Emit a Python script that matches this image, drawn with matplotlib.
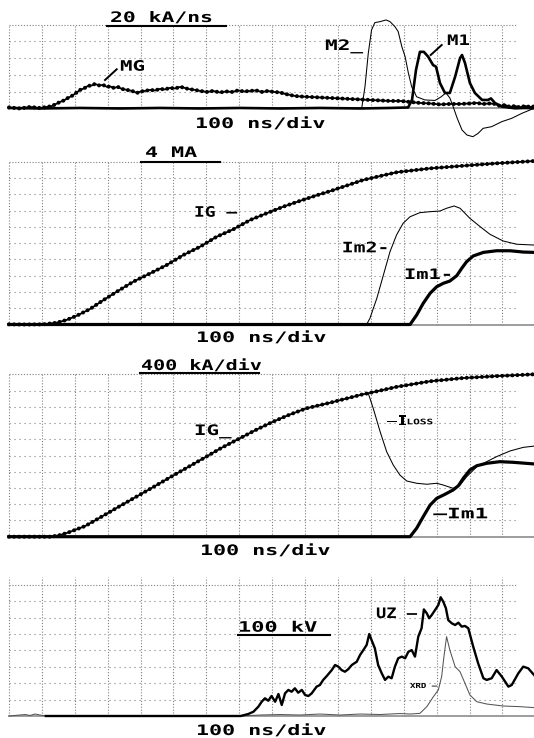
import matplotlib
matplotlib.use("Agg")
import matplotlib.pyplot as plt
from matplotlib.patheffects import AbstractPathEffect
from matplotlib.transforms import Affine2D
from matplotlib.lines import Line2D

W, H = 534, 738

# ---------------- DATA (time in ns, 100 ns per grid division; amplitude in grid divisions) -------------
# Panel 1 : dI/dt probes
t_mg = [0, 33, 64, 94, 116, 131, 143, 155, 167, 179, 191, 204, 216, 228, 240, 252, 261, 274, 286, 298,
        307, 319, 331, 343, 359, 374, 389, 401, 413, 429, 444, 459, 474, 489, 505, 520, 529, 544, 565, 581,
        602, 620, 641, 660, 678, 696, 714, 733, 751, 769, 787, 805, 824, 839, 854, 869, 884, 915, 945, 976,
        1006, 1036, 1067, 1097, 1128, 1158, 1188, 1219, 1249, 1280, 1310, 1340, 1371, 1401, 1422, 1441, 1462,
        1477, 1492, 1508, 1523, 1538, 1553, 1568, 1584, 1596]
mg = [0.05, -0.01, 0.08, 0.02, 0.08, 0.14, 0.26, 0.38, 0.47, 0.62, 0.74, 0.92, 1.10, 1.19, 1.34, 1.37, 1.46,
      1.37, 1.40, 1.28, 1.31, 1.22, 1.28, 1.16, 1.10, 1.04, 0.92, 1.01, 1.04, 1.10, 1.07, 1.16, 1.13, 1.22,
      1.19, 1.28, 1.25, 1.16, 1.10, 1.04, 0.98, 1.04, 0.95, 1.01, 0.98, 1.07, 1.01, 1.04, 1.07, 0.98, 1.04,
      0.98, 0.95, 0.86, 0.80, 0.74, 0.71, 0.68, 0.65, 0.62, 0.59, 0.56, 0.53, 0.50, 0.47, 0.44, 0.44, 0.38,
      0.32, 0.29, 0.23, 0.26, 0.26, 0.29, 0.32, 0.26, 0.29, 0.26, 0.14, 0.20, 0.08, 0.14, 0.05, 0.14, 0.08, 0.11]

t_m1 = [0, 94, 216, 338, 459, 581, 702, 824, 945, 1067, 1158, 1213, 1225, 1237, 1249, 1261, 1274, 1289,
        1298, 1310, 1325, 1340, 1356, 1371, 1377, 1386, 1401, 1416, 1438, 1456, 1465, 1477, 1498, 1538, 1568, 1596]
m1 = [0.02, -0.01, 0.02, -0.01, 0.02, -0.01, 0.02, -0.01, 0.02, -0.01, 0.02, 0.05, 0.50, 2.29, 3.38, 3.38,
      3.09, 2.59, 2.49, 1.51, 0.92, 0.92, 1.89, 3.01, 3.19, 2.71, 1.51, 0.92, 0.50, 0.50, 0.59, 0.32, 0.10,
      0.0, 0.02, 0.0]

t_m2 = [0, 1072, 1082, 1092, 1102, 1112, 1128, 1146, 1158, 1173, 1183, 1194, 1204, 1214, 1224, 1239, 1264,
        1295, 1313, 1328, 1340, 1350, 1362, 1377, 1392, 1410, 1426, 1441, 1467, 1498, 1528, 1559, 1596]
m2 = [0, 0, 1.29, 3.29, 4.69, 5.13, 5.19, 5.29, 5.19, 4.89, 4.59, 3.69, 3.09, 2.10, 1.29, 0.69, 0.50, 0.47,
      0.68, 0.92, 0.62, 0.10, -0.58, -1.30, -1.60, -1.70, -1.50, -1.20, -1.10, -0.80, -0.60, -0.30, 0]

# Panel 2 : currents
t_ig2 = [0, 49, 104, 125, 145, 175, 206, 246, 287, 327, 378, 429, 479, 530, 581, 631, 682, 733, 783, 834,
         884, 945, 976, 1077, 1178, 1280, 1381, 1482, 1596]
ig2 = [0.01, 0, 0.01, 0.06, 0.11, 0.28, 0.54, 0.95, 1.50, 2.01, 2.63, 3.14, 3.65, 4.27, 4.78, 5.39, 5.85,
       6.42, 6.83, 7.24, 7.59, 8.00, 8.19, 8.88, 9.35, 9.59, 9.75, 9.90, 10.04]

t_im2 = [0, 1087, 1097, 1118, 1138, 1158, 1178, 1198, 1219, 1249, 1280, 1310, 1330, 1353, 1371, 1401, 1432,
         1462, 1502, 1543, 1596]
im2 = [0, 0, 0.38, 1.61, 3.04, 4.47, 5.50, 6.22, 6.62, 6.87, 6.93, 6.97, 7.14, 7.28, 7.14, 6.52, 6.01, 5.54,
       5.13, 4.93, 4.88]

t_im1 = [0, 1219, 1239, 1259, 1280, 1300, 1320, 1340, 1361, 1376, 1391, 1411, 1442, 1482, 1523, 1563, 1596]
im1 = [0, 0, 0.58, 1.30, 1.92, 2.32, 2.53, 2.67, 3.00, 3.45, 3.86, 4.21, 4.43, 4.53, 4.53, 4.45, 4.43]

# Panel 3 : currents and loss current
t_ig3 = [0, 128, 155, 179, 231, 283, 334, 386, 438, 489, 541, 593, 644, 696, 748, 799, 851, 903, 976,
         1076, 1091, 1179, 1280, 1380, 1483, 1596]
ig3 = [0, 0, 0.10, 0.25, 0.65, 1.25, 1.85, 2.45, 3.05, 3.65, 4.25, 4.85, 5.45, 6.00, 6.55, 7.05, 7.50, 7.90,
       8.25, 8.77, 8.83, 9.23, 9.57, 9.77, 9.89, 10.00]

t_loss = [1092, 1107, 1128, 1148, 1168, 1188, 1209, 1239, 1270, 1300, 1320, 1350, 1371, 1391, 1422, 1452,
          1482, 1523, 1563, 1596]
iloss = [8.83, 7.91, 6.47, 5.23, 4.41, 3.80, 3.43, 3.29, 3.23, 3.29, 3.18, 2.98, 3.18, 3.69, 4.31, 4.62,
         4.93, 5.28, 5.50, 5.58]

t_im1b = [0, 1219, 1239, 1259, 1280, 1300, 1325, 1350, 1366, 1381, 1401, 1422, 1452, 1492, 1533, 1596]
im1b = [0, 0, 0.52, 1.23, 1.95, 2.36, 2.61, 2.88, 3.14, 3.60, 4.11, 4.37, 4.52, 4.62, 4.58, 4.48]

# Panel 4 : voltage UZ and XRD signal
t_uz = [112, 429, 704, 727, 743, 758, 768, 778, 788, 798, 809, 819, 829, 839, 849, 859, 869, 879, 890, 900,
        910, 920, 935, 945, 955, 966, 981, 991, 1001, 1011, 1021, 1031, 1042, 1057, 1067, 1077, 1087, 1095,
        1102, 1112, 1122, 1133, 1143, 1153, 1163, 1173, 1183, 1194, 1204, 1214, 1224, 1234, 1244, 1254, 1261,
        1270, 1277, 1285, 1295, 1305, 1312, 1320, 1328, 1335, 1346, 1356, 1366, 1376, 1386, 1396, 1411, 1426,
        1442, 1452, 1467, 1482, 1498, 1518, 1528, 1548, 1563, 1578, 1596]
uz = [0, 0, 0, 0.12, 0.26, 0.57, 0.87, 1.08, 0.93, 1.22, 0.87, 1.34, 0.67, 1.38, 1.59, 1.48, 1.69, 1.42,
      1.59, 1.28, 1.22, 1.38, 1.79, 1.89, 2.20, 2.44, 2.80, 3.11, 3.01, 2.80, 2.70, 2.85, 3.11, 3.31, 3.72,
      4.02, 4.33, 5.00, 4.63, 4.13, 3.11, 2.60, 2.20, 2.40, 2.30, 3.01, 3.52, 3.62, 3.52, 3.92, 4.02, 3.62,
      4.84, 5.35, 6.50, 6.26, 5.96, 6.16, 6.46, 6.77, 7.24, 6.97, 6.57, 5.85, 5.65, 5.55, 5.69, 5.45, 5.49,
      5.35, 4.23, 3.21, 2.30, 2.20, 2.30, 2.80, 2.40, 1.79, 1.89, 2.60, 3.01, 2.91, 2.50]

t_xrd = [0, 33, 49, 64, 79, 94, 112, 704, 763, 824, 884, 945, 1006, 1067, 1128, 1188, 1219, 1249, 1270,
         1290, 1305, 1315, 1322, 1330, 1340, 1356, 1371, 1386, 1401, 1422, 1452, 1502, 1553, 1596]
xrd = [0, 0.06, 0.09, 0.03, 0.12, 0.06, 0, 0, 0.06, 0.09, 0.06, 0.12, 0.06, 0.12, 0.09, 0.15, 0.12, 0.16,
       0.57, 1.18, 1.59, 2.40, 3.62, 4.84, 4.02, 3.01, 2.70, 1.99, 1.28, 0.87, 0.73, 0.61, 0.57, 0.51]

# grid layout of the oscilloscope screens
n_vdiv = [5, 10, 10, 8]
grid_t = list(range(0, 1600, 100))

# --------------------------------------------------------------------------------------------------------
class HStretch(AbstractPathEffect):
    """Widen glyphs horizontally (scope-style wide font)."""
    def __init__(self, sx):
        super().__init__()
        self._sx = sx

    def draw_path(self, renderer, gc, tpath, affine, rgbFace=None):
        renderer.draw_path(gc, tpath, Affine2D().scale(self._sx, 1.0) + affine, rgbFace)


fig = plt.figure(figsize=(W / 100, H / 100), dpi=100)
fig.patch.set_facecolor("white")

PX_DIV_X = 32.9
X0 = 9.0
xlim = (-X0 / PX_DIV_X * 100, (W - X0) / PX_DIV_X * 100)

# (baseline px, px per division, band top px, band bottom px)
panels = [(108.3, 16.7, 0, 145), (324.5, 16.28, 145, 345), (536.7, 16.24, 345, 560), (716.0, 16.4, 560, 738)]
axes = []
for (b, d, top, bot), nv in zip(panels, n_vdiv):
    ax = fig.add_axes([0, 1 - bot / H, 1, (bot - top) / H])
    ax.set_xlim(*xlim)
    ax.set_ylim((b - bot) / d, (b - top) / d)
    ax.axis("off")
    gcol = "#808080"
    vtop = nv + (0.45 if nv == 8 else 0)
    ax.vlines(grid_t, 0, vtop, colors=gcol, linestyles=(0, (1, 1.6)), linewidth=0.8, zorder=1)
    x_h_end = (517 - X0) / PX_DIV_X * 100
    ax.hlines(list(range(1, nv)), 0, x_h_end, colors=gcol, linestyles=(0, (1, 3.5)), linewidth=0.8, zorder=1)
    ax.hlines([nv], 0, x_h_end, colors=gcol, linestyles=(0, (1, 1.6)), linewidth=0.8, zorder=1)
    ax.plot([0, xlim[1]], [0, 0], color="#8c8c8c", lw=1.2, zorder=1.5)
    axes.append(ax)

THICK = 1.9
THIN = 0.75


def beaded(ax, t, y):
    ax.plot(t, y, color="black", lw=1.3, zorder=3)
    ax.plot(t, y, color="black", lw=2.9, ls=(0, (0.01, 1.25)), dash_capstyle="round", zorder=3)


a1, a2, a3, a4 = axes
# panel 1
a1.plot(t_m2, m2, color="black", lw=THIN, zorder=2)
a1.plot(t_m1, m1, color="black", lw=THICK, zorder=2.5)
beaded(a1, t_mg, mg)
# panel 2
a2.plot(t_im2, im2, color="black", lw=THIN, zorder=2)
a2.plot(t_im1, im1, color="black", lw=THICK + 0.4, zorder=2.5)
beaded(a2, t_ig2, ig2)
# panel 3
a3.plot(t_loss, iloss, color="black", lw=THIN, zorder=2)
a3.plot(t_im1b, im1b, color="black", lw=THICK + 0.4, zorder=2.5)
beaded(a3, t_ig3, ig3)
# panel 4
a4.plot(t_xrd, xrd, color="#555555", lw=THIN, zorder=2)
a4.plot(t_uz, uz, color="black", lw=THICK - 0.2, zorder=2.5)


# ---------------- text ----------------
def label(px, py, s, sx, size=10.4):
    fig.text(px / W, 1 - py / H, s, ha="left", va="baseline", fontsize=size,
             family="DejaVu Sans Mono", fontweight="bold", color="black",
             path_effects=[HStretch(sx)])


def fline(x0, y0, x1, y1, lw=1.5):
    fig.add_artist(Line2D([x0 / W, x1 / W], [1 - y0 / H, 1 - y1 / H], color="black", lw=lw,
                          transform=fig.transFigure))


# panel 1
label(110, 22, "20 kA/ns", 1.48)
fline(107, 25.5, 226, 25.5)
label(195, 128, "100 ns/div", 1.5)
label(120, 70.7, "MG", 1.44)
fline(105, 80, 116.7, 69.3, 1.4)
label(325, 50, "M2_", 1.46)
label(447, 45, "M1", 1.32)
fline(430.7, 55, 441.7, 45, 1.4)
# panel 2
label(145, 157, "4 MA", 1.5)
fline(141, 162, 220, 162)
label(194, 216.7, "IG —", 1.24)
label(341.7, 252.3, "Im2-", 1.37)
label(404, 279, "Im1-", 1.41)
label(196, 342, "100 ns/div", 1.5)
# panel 3
label(141, 370, "400 kA/div", 1.39)
fline(140, 373.3, 259, 373.3)
label(194, 435, "IG_", 1.44)
label(387, 425.5, "—I", 1.2)
label(406.5, 424.3, "LOSS", 1.45, size=5.5)
label(433.3, 518.3, "—Im1", 1.58)
label(200, 555, "100 ns/div", 1.5)
# panel 4
label(238, 631.7, "100 kV", 1.52)
fline(238, 634.5, 330, 634.5)
label(376, 618, "UZ —", 1.18)
label(410, 688, "XRD —", 1.3, size=5)
label(196, 735, "100 ns/div", 1.5)

fig.savefig("out.png", dpi=100, facecolor="white")
